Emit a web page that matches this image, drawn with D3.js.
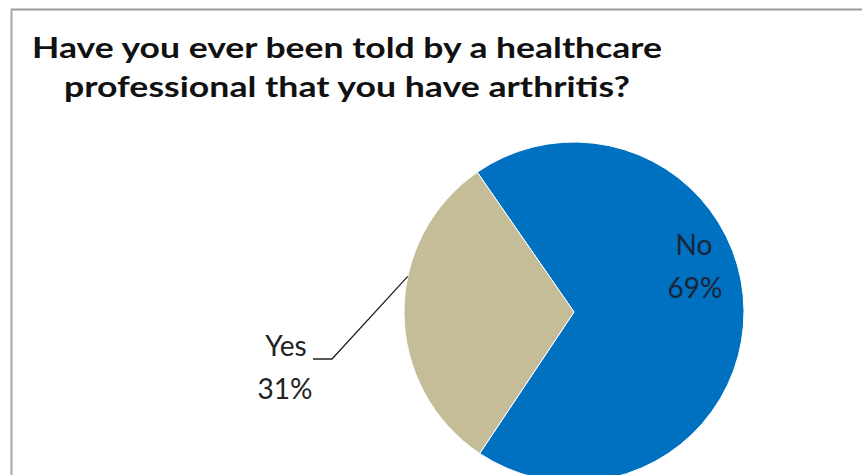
<!DOCTYPE html>
<html>
<head>
<meta charset="utf-8">
<script src="https://cdn.jsdelivr.net/npm/d3@7"></script>
<style>
  html, body { margin: 0; padding: 0; background: #fff; }
  svg { display: block; }
</style>
</head>
<body>
<svg id="chart" width="862" height="475"></svg>
<script>
// Survey answers and their shares (percent)
const categories = ["No", "Yes"];
const shares = [69, 31];
const sliceColors = ["#0070C0", "#C4BD97"];
const titleLines = [
  "Have you ever been told by a healthcare",
  "professional that you have arthritis?"
];

const svg = d3.select("#chart");
const W = 862, H = 475;

// Chart area frame (top and left edges visible)
svg.append("rect").attr("x", 0).attr("y", 0).attr("width", W).attr("height", H).attr("fill", "#fff");
svg.append("line").attr("x1", 11).attr("x2", W).attr("y1", 9.5).attr("y2", 9.5)
  .attr("stroke", "#9a9a9a").attr("stroke-width", 2);
svg.append("line").attr("x1", 11.5).attr("x2", 11.5).attr("y1", 9).attr("y2", H)
  .attr("stroke", "#a8a8a8").attr("stroke-width", 2);

// Title
const title = svg.append("g").attr("font-family", "Lato, 'Open Sans', sans-serif")
  .attr("font-weight", "bold").attr("font-size", 28).attr("fill", "#111");
const titleWidths = [630, 566];
const titleY = [58, 97];
titleLines.forEach((t, i) => {
  title.append("text").attr("x", 347).attr("y", titleY[i])
    .attr("text-anchor", "middle")
    .attr("textLength", titleWidths[i]).attr("lengthAdjust", "spacingAndGlyphs")
    .text(t);
});

// Pie
const cx = 574, cy = 312, r = 170;
const firstSliceAngle = -34.7 * Math.PI / 180;
const pie = d3.pie().sort(null).value(d => d)
  .startAngle(firstSliceAngle).endAngle(firstSliceAngle + 2 * Math.PI);
const arcs = pie(shares);
const arc = d3.arc().innerRadius(0).outerRadius(r);
const color = d3.scaleOrdinal().domain(categories).range(sliceColors);

const g = svg.append("g").attr("transform", `translate(${cx},${cy})`);
g.selectAll("path").data(arcs).enter().append("path")
  .attr("d", arc)
  .attr("fill", (d, i) => color(categories[i]))
  .attr("stroke", "#fff").attr("stroke-width", 1);

// Labels
const labelFont = "Lato, 'Open Sans', sans-serif";
const noLabel = g.append("text").attr("font-family", labelFont).attr("font-size", 28)
  .attr("fill", "#1b2538").attr("text-anchor", "middle");
noLabel.append("tspan").attr("x", 694 - cx).attr("y", 255 - cy).text(categories[0]);
noLabel.append("tspan").attr("x", 695 - cx).attr("y", 298 - cy).text(shares[0] + "%");

// Outside label for the smaller slice with a leader line
const yesArc = arcs[1];
const edgeAngle = (yesArc.startAngle + yesArc.endAngle) / 2 + 0.22;
const edge = [Math.sin(edgeAngle) * r, -Math.cos(edgeAngle) * r];
const lx = 313 - cx, ly = 359 - cy;
g.append("polyline")
  .attr("points", [[lx, ly], [lx + 19, ly], edge].map(p => p.join(",")).join(" "))
  .attr("fill", "none").attr("stroke", "#222").attr("stroke-width", 1.3);
const yesLabel = g.append("text").attr("font-family", labelFont).attr("font-size", 28)
  .attr("fill", "#222").attr("text-anchor", "middle");
yesLabel.append("tspan").attr("x", 286 - cx).attr("y", 356 - cy).text(categories[1]);
yesLabel.append("tspan").attr("x", 285 - cx).attr("y", 399 - cy).text(shares[1] + "%");
</script>
</body>
</html>
